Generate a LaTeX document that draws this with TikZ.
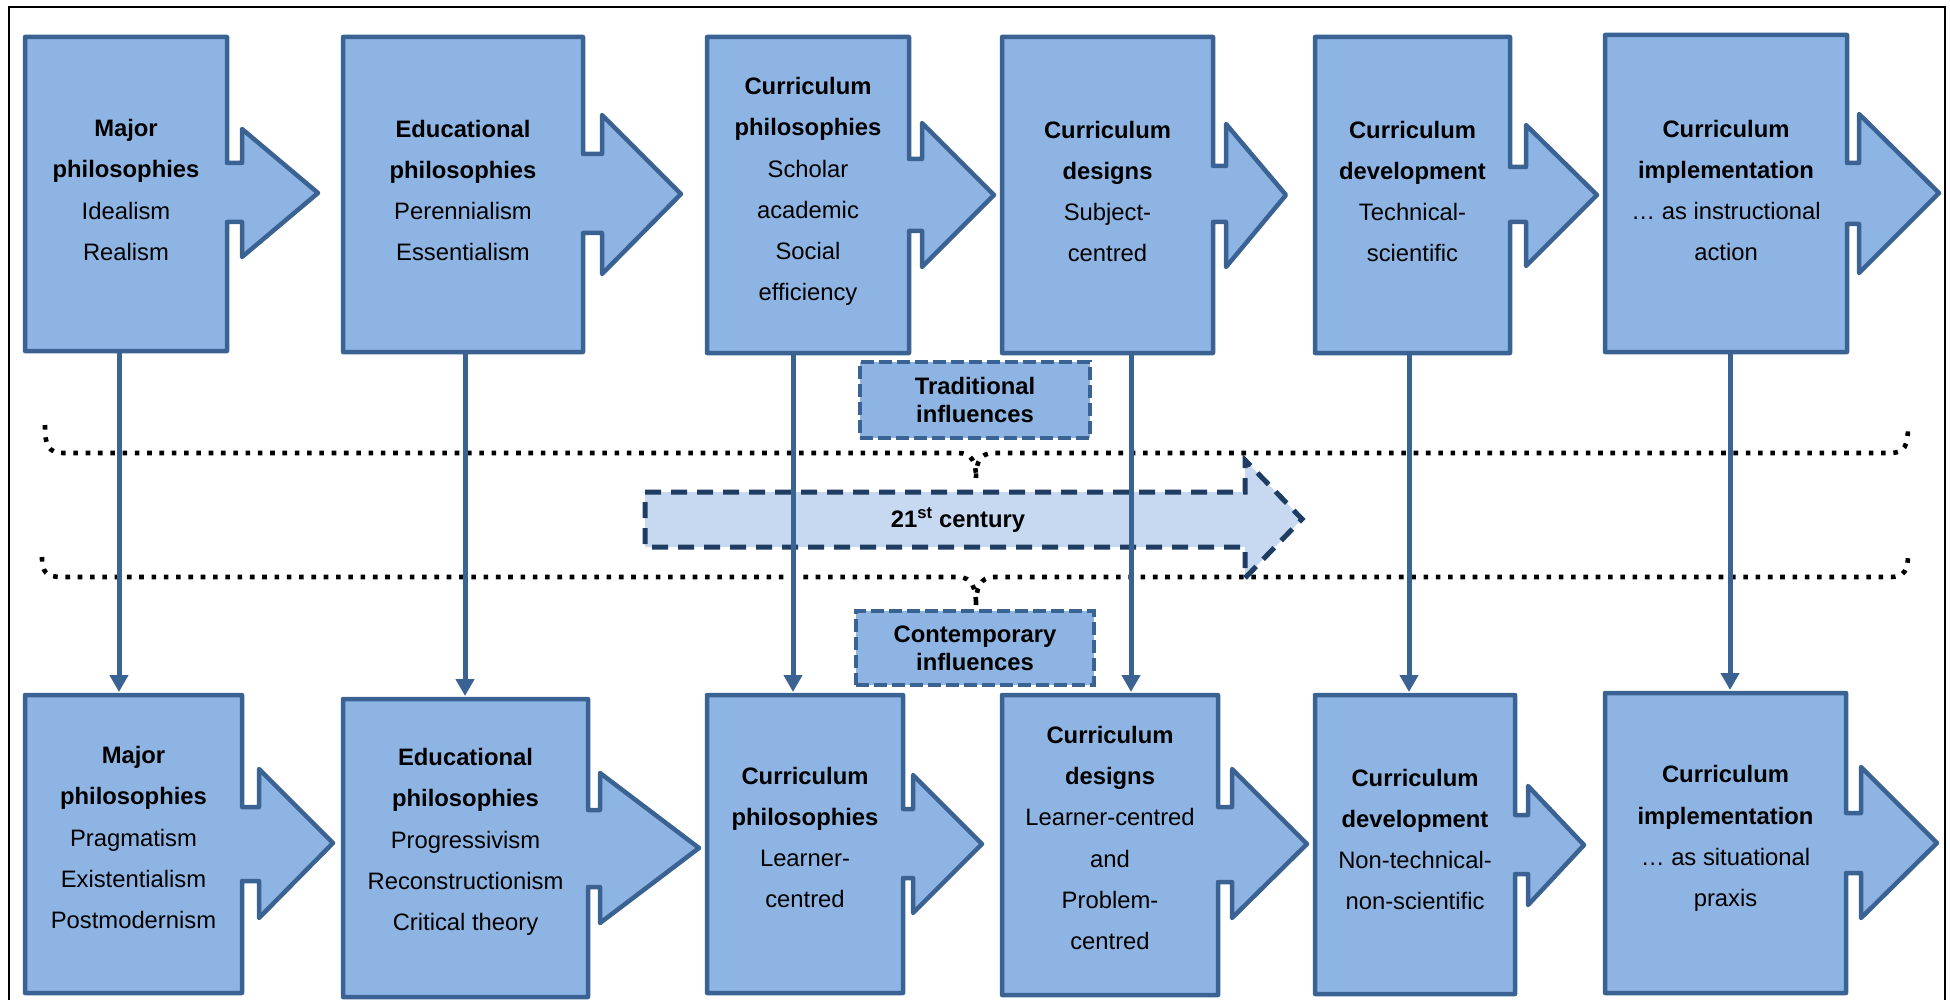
\documentclass[tikz,border=0pt]{standalone}
\usepackage{fontspec}
\setmainfont{Liberation Sans}
\usetikzlibrary{arrows.meta}
\definecolor{boxfill}{HTML}{8EB4E3}
\definecolor{boxline}{HTML}{3A6292}
\definecolor{barfill}{HTML}{C6D9F1}
\definecolor{barline}{HTML}{1F3C62}

\begin{document}
\begin{tikzpicture}[x=1pt,y=-1pt,
  callout/.style={fill=boxfill,draw=boxline,line width=4.5pt,line join=round},
  slot/.style={inner sep=0pt,outer sep=0pt},
  txt/.style={align=center,font=\fontsize{23.8}{41.2}\selectfont,inner sep=0pt},
  tag/.style={fill=boxfill,draw=boxline,line width=4.5pt,dash pattern=on 13pt off 5pt,
              inner sep=0pt,align=center,font=\fontsize{23.8}{28}\selectfont\bfseries},
  conn/.style={draw=boxline,line width=5pt,shorten >=3pt,-{Triangle[width=18pt,length=17pt]}},
  brace/.style={line width=4.6pt,dash pattern=on 4.6pt off 7.7pt},
  era/.style={fill=barfill,draw=barline,line width=5pt,dash pattern=on 16pt off 10pt,line join=miter}
]
\useasboundingbox (0,0) rectangle (1950,1000);

% outer frame (open at the bottom edge of the page)
\draw[line width=2.5pt] (9,1002) -- (9,7) -- (1945,7) -- (1945,1002);

% ---------- traditional row ----------
\path[callout] (25,37) -- (227,37) -- (227,163) -- (242,163) -- (242,129) -- (318,193) -- (242,257) -- (242,222) -- (227,222) -- (227,351) -- (25,351) -- cycle;
\path[callout] (343,37) -- (583,37) -- (583,154) -- (602,154) -- (602,115) -- (681,194) -- (602,274) -- (602,233) -- (583,233) -- (583,352) -- (343,352) -- cycle;
\path[callout] (707,37) -- (909,37) -- (909,159) -- (922,159) -- (922,123) -- (994,195) -- (922,267) -- (922,231) -- (909,231) -- (909,353) -- (707,353) -- cycle;
\path[callout] (1002,37) -- (1213,37) -- (1213,166) -- (1226,166) -- (1226,124) -- (1286,195) -- (1226,267) -- (1226,222) -- (1213,222) -- (1213,353) -- (1002,353) -- cycle;
\path[callout] (1315,37) -- (1510,37) -- (1510,167) -- (1526,167) -- (1526,125) -- (1597,195) -- (1526,266) -- (1526,222) -- (1510,222) -- (1510,353) -- (1315,353) -- cycle;
\path[callout] (1605,35) -- (1847,35) -- (1847,163) -- (1859,163) -- (1859,114) -- (1939,193) -- (1859,273) -- (1859,224) -- (1847,224) -- (1847,352) -- (1605,352) -- cycle;

\node[slot,minimum width=202pt,minimum height=314pt] (t1) at (126,194) {};
\node[slot,minimum width=240pt,minimum height=315pt] (t2) at (463,194.5) {};
\node[slot,minimum width=202pt,minimum height=316pt] (t3) at (808,195) {};
\node[slot,minimum width=211pt,minimum height=316pt] (t4) at (1107.5,195) {};
\node[slot,minimum width=195pt,minimum height=316pt] (t5) at (1412.5,195) {};
\node[slot,minimum width=242pt,minimum height=317pt] (t6) at (1726,193.5) {};

\node[txt] (t1text) at (126,190) {\textbf{Major}\\\textbf{philosophies}\\Idealism\\Realism};
\node[txt] (t2text) at (463,190.5) {\textbf{Educational}\\\textbf{philosophies}\\Perennialism\\Essentialism};
\node[txt] (t3text) at (808,191.5) {\textbf{Curriculum}\\\textbf{philosophies}\\Scholar\\academic\\Social\\efficiency};
\node[txt] (t4text) at (1107.5,191.5) {\textbf{Curriculum}\\\textbf{designs}\\Subject-\\centred};
\node[txt] (t5text) at (1412.5,191.5) {\textbf{Curriculum}\\\textbf{development}\\Technical-\\scientific};
\node[txt] (t6text) at (1726,190.5) {\textbf{Curriculum}\\\textbf{implementation}\\\dots\ as instructional\\action};

% ---------- contemporary row ----------
\path[callout] (25,695) -- (242,695) -- (242,807) -- (259,807) -- (259,769) -- (333,843) -- (259,918) -- (259,881) -- (242,881) -- (242,993) -- (25,993) -- cycle;
\path[callout] (343,699) -- (588,699) -- (588,810) -- (600,810) -- (600,773) -- (699,848) -- (600,923) -- (600,887) -- (588,887) -- (588,997) -- (343,997) -- cycle;
\path[callout] (707,695) -- (903,695) -- (903,809) -- (913,809) -- (913,775) -- (982,844) -- (913,913) -- (913,878) -- (903,878) -- (903,993) -- (707,993) -- cycle;
\path[callout] (1002,695) -- (1218,695) -- (1218,807) -- (1232,807) -- (1232,769) -- (1307,844) -- (1232,918) -- (1232,882) -- (1218,882) -- (1218,995) -- (1002,995) -- cycle;
\path[callout] (1315,695) -- (1515,695) -- (1515,815) -- (1528,815) -- (1528,786) -- (1584,845) -- (1528,905) -- (1528,874) -- (1515,874) -- (1515,994) -- (1315,994) -- cycle;
\path[callout] (1605,693) -- (1846,693) -- (1846,813) -- (1861,813) -- (1861,767) -- (1937,843) -- (1861,918) -- (1861,873) -- (1846,873) -- (1846,993) -- (1605,993) -- cycle;

\node[slot,minimum width=217pt,minimum height=298pt] (b1) at (133.5,844) {};
\node[slot,minimum width=245pt,minimum height=298pt] (b2) at (465.5,848) {};
\node[slot,minimum width=196pt,minimum height=298pt] (b3) at (805,844) {};
\node[slot,minimum width=216pt,minimum height=300pt] (b4) at (1110,845) {};
\node[slot,minimum width=200pt,minimum height=299pt] (b5) at (1415,844.5) {};
\node[slot,minimum width=241pt,minimum height=300pt] (b6) at (1725.5,843) {};

\node[txt] (b1text) at (133.5,837.5) {\textbf{Major}\\\textbf{philosophies}\\Pragmatism\\Existentialism\\Postmodernism};
\node[txt] (b2text) at (465.5,842) {\textbf{Educational}\\\textbf{philosophies}\\Progressivism\\Reconstructionism\\Critical theory};
\node[txt] (b3text) at (805,837.5) {\textbf{Curriculum}\\\textbf{philosophies}\\Learner-\\centred};
\node[txt] (b4text) at (1110,838) {\textbf{Curriculum}\\\textbf{designs}\\Learner-centred\\and\\Problem-\\centred};
\node[txt] (b5text) at (1415,839.5) {\textbf{Curriculum}\\\textbf{development}\\Non-technical-\\non-scientific};
\node[txt] (b6text) at (1725.5,838.5) {\textbf{Curriculum}\\\textbf{implementation}\\\dots\ as situational\\praxis};

% ---------- influence tags ----------
\node[tag,minimum width=230pt,minimum height=76pt] (trad) at (975,400) {Traditional\\influences};
\node[tag,minimum width=238pt,minimum height=74pt] (cont) at (975,648) {Contemporary\\influences};

% ---------- dotted braces ----------
\draw[brace] (45,425) .. controls (45,446) and (48,453) .. (64,453) -- (958,453)
             .. controls (972,453) and (976,462) .. (976,478);
\draw[brace] (976,478) .. controls (976,462) and (980,453) .. (994,453) -- (1890,453)
             .. controls (1905,453) and (1908,446) .. (1908,425);
\draw[brace] (42,557) .. controls (42,572) and (46,577) .. (62,577) -- (958,577)
             .. controls (972,577) and (976,588) .. (976,605);
\draw[brace] (976,605) .. controls (976,588) and (980,577) .. (994,577) -- (1890,577)
             .. controls (1905,577) and (1908,570) .. (1908,554);

% ---------- 21st century arrow ----------
\path[era] (645,492) -- (1245,492) -- (1245,460) -- (1302,519) -- (1245,578) -- (1245,547) -- (645,547) -- cycle;
\node[font=\fontsize{23.8}{28}\selectfont\bfseries,inner sep=0pt] (century) at (958,520) {21\textsuperscript{st} century};

% ---------- links from each traditional box to its contemporary counterpart ----------
\coordinate (col1) at (119,0);
\coordinate (col2) at (465,0);
\coordinate (col3) at (793,0);
\coordinate (col4) at (1131,0);
\coordinate (col5) at (1409,0);
\coordinate (col6) at (1730,0);
\draw[conn] (t1.south -| col1) -- (b1.north -| col1);
\draw[conn] (t2.south -| col2) -- (b2.north -| col2);
\draw[conn] (t3.south -| col3) -- (b3.north -| col3);
\draw[conn] (t4.south -| col4) -- (b4.north -| col4);
\draw[conn] (t5.south -| col5) -- (b5.north -| col5);
\draw[conn] (t6.south -| col6) -- (b6.north -| col6);
\end{tikzpicture}
\end{document}
